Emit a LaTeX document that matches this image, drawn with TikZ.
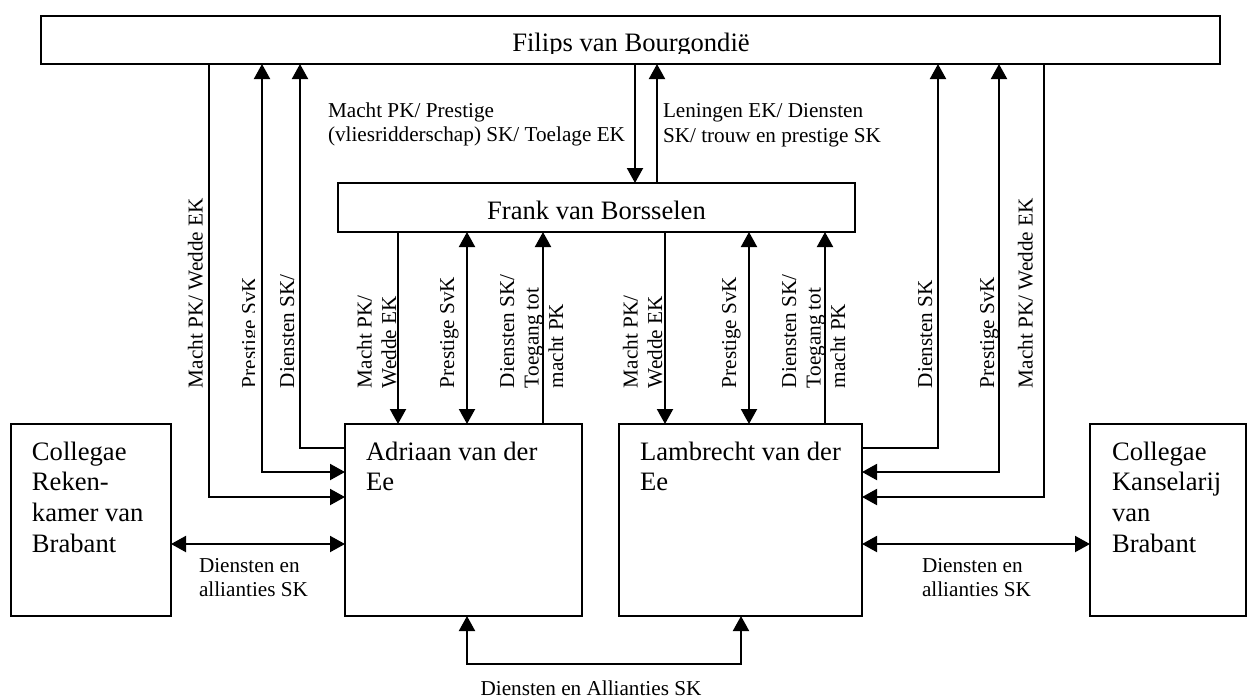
\documentclass[tikz,border=0pt]{standalone}
\usepackage{fontspec}
\setmainfont{Liberation Serif}
\usetikzlibrary{arrows.meta,fit}
\begin{document}
\begin{tikzpicture}[x=0.5pt,y=-0.5pt,
  every node/.style={inner sep=0pt, outer sep=0pt},
  boxnode/.style={draw, line width=1pt},
  big/.style={font=\fontsize{13.3}{15.35}\selectfont},
  small/.style={font=\fontsize{10.6}{12.25}\selectfont},
  vlab/.style={small, rotate=90, anchor=north west, align=left},
  hlab/.style={anchor=north west, align=left},
  conn/.style={line width=1pt},
  arrowend/.style={-{Triangle[length=7.5pt,width=8pt]}},
  arrowboth/.style={{Triangle[length=7.5pt,width=8pt]}-{Triangle[length=7.5pt,width=8pt]}},
]
\useasboundingbox (0,0) rectangle (1248,698);

% boxes
\node[boxnode, fit={(41,16) (1220,64)}] (filips) {};
\node[boxnode, fit={(338,183) (855,232)}] (frank) {};
\node[boxnode, fit={(345,424) (582,616)}] (adriaan) {};
\node[boxnode, fit={(619,424) (862,616)}] (lambrecht) {};
\node[boxnode, fit={(11,424) (171,616)}] (rek) {};
\node[boxnode, fit={(1090,424) (1246,616)}] (kans) {};

% box texts
\begin{scope}
\clip (41,16) rectangle (1220,53.5);
\node[big, anchor=base] (filipstext) at (631,51) {Filips van Bourgondië};
\end{scope}
\node[big, anchor=base] (franktext) at (596.5,219.5) {Frank van Borsselen};
\node[big, hlab] (adriaantext) at (366,441.6) {Adriaan van der\\Ee};
\node[big, hlab] (lambrechttext) at (640,441.6) {Lambrecht van der\\Ee};
\node[big, hlab] (rektext) at (32,441.6) {Collegae\\Reken-\\kamer van\\Brabant};
\node[big, hlab] (kanstext) at (1112,441.6) {Collegae\\Kanselarij\\van\\Brabant};

% column / row coordinates
\coordinate (xa) at (209,0);
\coordinate (xb) at (262,0);
\coordinate (xc) at (300,0);
\coordinate (xd) at (398,0);
\coordinate (xe) at (467,0);
\coordinate (xf) at (543,0);
\coordinate (xg) at (635,0);
\coordinate (xh) at (657,0);
\coordinate (xi) at (665,0);
\coordinate (xj) at (749,0);
\coordinate (xk) at (825,0);
\coordinate (xl) at (938,0);
\coordinate (xm) at (999,0);
\coordinate (xn) at (1044,0);
\coordinate (xo) at (741,0);
\coordinate (ya) at (0,448);
\coordinate (yb) at (0,472);
\coordinate (yc) at (0,497);
\coordinate (yd) at (0,544);
\coordinate (ye) at (0,664);

% Filips <-> Frank
\draw[conn,arrowend] (filips.south -| xg) -- (frank.north -| xg);
\draw[conn,arrowend] (frank.north -| xh) -- (filips.south -| xh);

% Filips <-> Adriaan
\draw[conn,arrowend] (filips.south -| xa) |- (adriaan.west |- yc);
\draw[conn,arrowboth] (filips.south -| xb) |- (adriaan.west |- yb);
\draw[conn,arrowend] (adriaan.west |- ya) -| (filips.south -| xc);

% Filips <-> Lambrecht
\draw[conn,arrowend] (lambrecht.east |- ya) -| (filips.south -| xl);
\draw[conn,arrowboth] (filips.south -| xm) |- (lambrecht.east |- yb);
\draw[conn,arrowend] (filips.south -| xn) |- (lambrecht.east |- yc);

% Frank <-> Adriaan
\draw[conn,arrowend] (frank.south -| xd) -- (adriaan.north -| xd);
\draw[conn,arrowboth] (frank.south -| xe) -- (adriaan.north -| xe);
\draw[conn,arrowend] (adriaan.north -| xf) -- (frank.south -| xf);

% Frank <-> Lambrecht
\draw[conn,arrowend] (frank.south -| xi) -- (lambrecht.north -| xi);
\draw[conn,arrowboth] (frank.south -| xj) -- (lambrecht.north -| xj);
\draw[conn,arrowend] (lambrecht.north -| xk) -- (frank.south -| xk);

% colleagues
\draw[conn,arrowboth] (rek.east |- yd) -- (adriaan.west |- yd);
\draw[conn,arrowboth] (lambrecht.east |- yd) -- (kans.west |- yd);

% Adriaan <-> Lambrecht
\draw[conn,arrowboth] (adriaan.south -| xe) |- (xo |- ye) -- (lambrecht.south -| xo);

% horizontal labels
\node[small, hlab] (labfl) at (328,102.7) {Macht PK/ Prestige\\(vliesridderschap) SK/ Toelage EK};
\node[small, hlab] (labfr) at (663,103.7) {Leningen EK/ Diensten\\SK/ trouw en prestige SK};
\node[small, hlab] (labrek) at (199,558.4) {Diensten en\\allianties SK};
\node[small, hlab] (labkans) at (922,558.4) {Diensten en\\allianties SK};
\node[small, anchor=base] (labbottom) at (591,695.5) {Diensten en Allianties SK};

% vertical labels
\node[vlab] (v1) at (188,388) {Macht PK/ Wedde EK};
\begin{scope}
\clip (200,250) rectangle (254,400);
\node[vlab] (v2) at (242,388) {Prestige SvK};
\end{scope}
\node[vlab] (v3) at (280,388) {Diensten SK/};
\node[vlab] (v4) at (357,388) {Macht PK/\\Wedde EK};
\node[vlab] (v5) at (440,388) {Prestige SvK};
\node[vlab] (v6) at (500,388) {Diensten SK/\\Toegang tot\\macht PK};
\node[vlab] (v7) at (623,388) {Macht PK/\\Wedde EK};
\node[vlab] (v8) at (722,388) {Prestige SvK};
\node[vlab] (v9) at (782,388) {Diensten SK/\\Toegang tot\\macht PK};
\node[vlab] (v10) at (918,388) {Diensten SK};
\node[vlab] (v11) at (980,388) {Prestige SvK};
\node[vlab] (v12) at (1018,388) {Macht PK/ Wedde EK};
\end{tikzpicture}
\end{document}
